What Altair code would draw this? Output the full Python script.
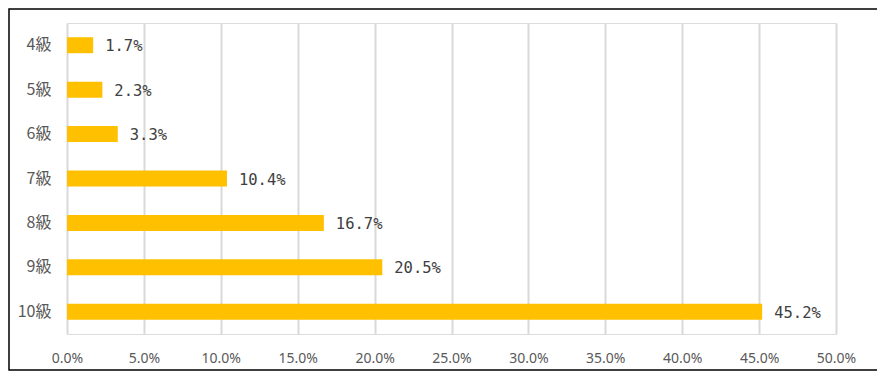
import altair as alt
import pandas as pd

grades = ["4級", "5級", "6級", "7級", "8級", "9級", "10級"]
shares = [0.017, 0.023, 0.033, 0.104, 0.167, 0.205, 0.452]
label_texts = ["1.7%", "2.3%", "3.3%", "10.4%", "16.7%", "20.5%", "45.2%"]
x_ticks = [0.0, 0.05, 0.10, 0.15, 0.20, 0.25, 0.30, 0.35, 0.40, 0.45, 0.50]

df = pd.DataFrame({"grade": grades, "share": shares, "label": label_texts})

W, H = 769, 311
PAD_L, PAD_T, PAD_R, PAD_B = 59, 15, 41, 37

base = alt.Chart(df)

x_enc = alt.X(
    "share:Q",
    scale=alt.Scale(domain=[0, 0.5], nice=False),
    axis=alt.Axis(
        values=x_ticks, format=".1%", title=None, domain=False, ticks=False,
        grid=True, gridColor="#D9D9D9", gridWidth=2,
        labelFont="Noto Sans", labelFontSize=14, labelColor="#595959",
        labelPadding=17, labelFlush=False, labelOverlap=False,
    ),
)
y_enc = alt.Y(
    "grade:N", sort=grades,
    scale=alt.Scale(paddingInner=0.64, paddingOuter=0.32),
    axis=alt.Axis(
        title=None, domain=False, ticks=False, grid=False,
        labelFont="Noto Sans CJK JP", labelFontSize=16, labelColor="#595959",
        labelPadding=16,
    ),
)

bars = base.mark_bar(color="#FFC000").encode(x=x_enc, y=y_enc)

labels = base.mark_text(
    align="left", baseline="middle", dx=12, dy=1,
    font="DejaVu Sans Mono", fontSize=15.5, color="#404040",
).encode(x="share:Q", y=alt.Y("grade:N", sort=grades), text="label:N")

border = alt.Chart(alt.Data(values=[{}])).mark_rect(
    fill=None, stroke="#000000", strokeWidth=1.5
).encode(
    x=alt.value(-PAD_L + 1), x2=alt.value(W + PAD_R + 10),
    y=alt.value(-PAD_T + 1), y2=alt.value(H + PAD_B - 1),
)

chart = alt.layer(border, bars, labels).properties(
    width=W, height=H,
    autosize=alt.AutoSizeParams(type="none"),
    padding={"left": PAD_L, "top": PAD_T, "right": PAD_R, "bottom": PAD_B},
).configure_view(stroke=None).configure(background="white")

chart.save("out.html", embed_options={"renderer": "svg", "actions": False})
